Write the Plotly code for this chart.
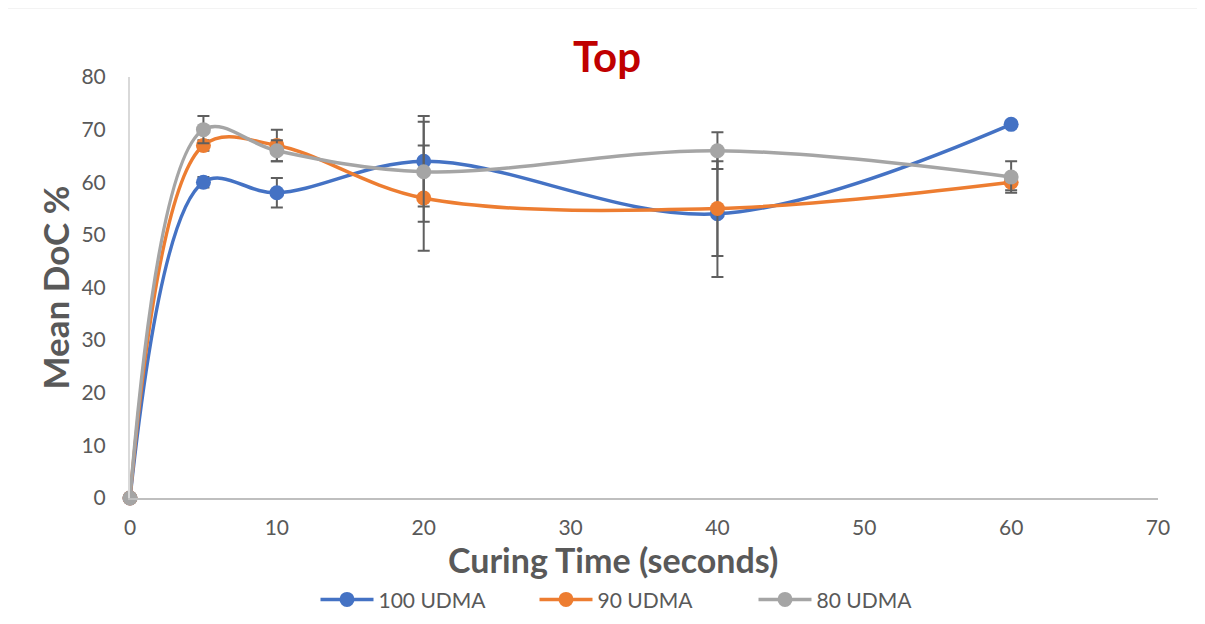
import plotly.graph_objects as go

curing_time = [0, 5, 10, 20, 40, 60]

udma100 = [0, 60, 58, 64, 54, 71]
udma100_err = [0, 1, 2.8, 8.6, 12, 0.5]

udma90 = [0, 67, 67, 57, 55, 60]
udma90_err = [0, 1, 3, 10, 9, 1.5]

udma80 = [0, 70, 66, 62, 66, 61]
udma80_err = [0, 2.6, 2, 9.5, 3.5, 3]

series = [
    ("100 UDMA", udma100, udma100_err, "#4472C4"),
    ("90 UDMA", udma90, udma90_err, "#ED7D31"),
    ("80 UDMA", udma80, udma80_err, "#A5A5A5"),
]

FONT = "Lato"
TXT = "#595959"
OFF = 8  # page body margin

fig = go.Figure()
for name, vals, errs, col in series:
    fig.add_trace(go.Scatter(
        x=curing_time, y=vals, name=name, mode="lines+markers",
        line=dict(color=col, width=3.5, shape="spline", smoothing=1),
        marker=dict(color=col, size=15),
        error_y=dict(type="data", array=errs, visible=True,
                     color="#5f5f5f", thickness=2, width=6),
        cliponaxis=False,
    ))

fig.add_shape(type="rect", xref="paper", yref="paper",
              x0=(7 - 130) / 1028, x1=(1202 - 130) / 1028,
              y0=(499 - 640) / 422, y1=(499 - 7) / 422,
              line=dict(color="#d0d0d0", width=2), layer="below")

fig.add_annotation(text="<b>Curing Time (seconds)</b>", xref="paper", yref="paper",
                   x=(613 - 130) / 1028, y=-(561 - 499) / 422,
                   xanchor="center", yanchor="middle", showarrow=False,
                   font=dict(family=FONT, size=34, color=TXT))

fig.update_layout(
    width=1205, height=624,
    margin=dict(l=130 - OFF, r=1205 - 1158 + OFF, t=77 - OFF, b=121),
    paper_bgcolor="white", plot_bgcolor="white",
    font=dict(family=FONT, color=TXT, size=21),
    title=dict(text="<b>Top</b>", font=dict(family=FONT, size=42, color="#C00000"),
               x=(607 - OFF) / 1205, xanchor="center", xref="container",
               y=1 - (57 - OFF) / 624, yanchor="middle", yref="container"),
    showlegend=True,
    legend=dict(orientation="h", x=(644 - 130) / 1028, xanchor="center",
                y=-(102) / 422, yanchor="middle",
                font=dict(family=FONT, size=21, color=TXT),
                itemwidth=53, entrywidth=151, entrywidthmode="pixels",
                bgcolor="rgba(0,0,0,0)"),
    xaxis=dict(range=[0, 70], dtick=10, tick0=0, showgrid=False, zeroline=False,
               showline=True, linecolor="#bfbfbf", linewidth=2,
               ticks="", ticklabelstandoff=10,
               tickfont=dict(family=FONT, size=21, color=TXT)),
    yaxis=dict(range=[0, 80], dtick=10, tick0=0, showgrid=False, zeroline=False,
               showline=True, linecolor="#d9d9d9", linewidth=2,
               ticks="", ticklabelstandoff=18,
               tickfont=dict(family=FONT, size=21, color=TXT),
               title=dict(text="<b>Mean DoC %</b>", standoff=1,
                          font=dict(family=FONT, size=35, color=TXT))),
)

fig.write_html("out.html")
